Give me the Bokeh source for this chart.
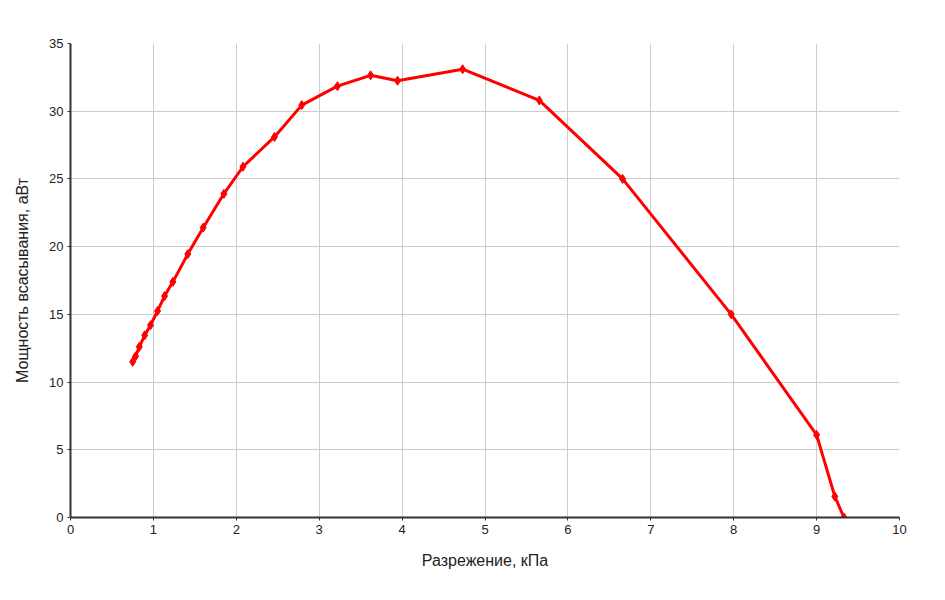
from bokeh.plotting import figure
from bokeh.models import Range1d, FixedTicker
from bokeh.embed import file_html
from bokeh.resources import INLINE

x_kpa = [0.75, 0.785, 0.83, 0.895, 0.965, 1.05, 1.135, 1.235, 1.415, 1.60,
         1.85, 2.08, 2.46, 2.79, 3.22, 3.62, 3.945, 4.73, 5.655, 6.66, 7.97,
         9.0, 9.22, 9.33]
y_power = [11.5, 11.9, 12.6, 13.45, 14.2, 15.25, 16.35, 17.4, 19.45, 21.4,
           23.9, 25.9, 28.1, 30.45, 31.85, 32.65, 32.25, 33.1, 30.8, 25.0, 15.0,
           6.1, 1.55, 0.0]

x_ticks = list(range(0, 11))
y_ticks = [0, 5, 10, 15, 20, 25, 30, 35]

FONT = "Liberation Sans"

p = figure(width=925, height=580, output_backend="svg", toolbar_location=None,
           x_range=Range1d(0, 10), y_range=Range1d(0, 35),
           min_border_left=70, min_border_top=43, min_border_right=26,
           min_border_bottom=63)
p.outline_line_color = None

p.line(x_kpa, y_power, line_color="#ff0000", line_width=3)
p.scatter(x_kpa, y_power, marker="diamond", size=9, fill_color="#ff0000",
          line_color="#ff0000")

for ax in (p.xaxis, p.yaxis):
    ax.major_label_text_font = FONT
    ax.major_label_text_font_size = "13px"
    ax.major_label_text_color = "#222222"
    ax.axis_label_text_font = FONT
    ax.axis_label_text_font_size = "16px"
    ax.axis_label_text_font_style = "normal"
    ax.axis_label_text_color = "#222222"
    ax.axis_line_color = "#333333"
    ax.axis_line_width = 2
    ax.major_tick_in = 0
    ax.major_tick_out = 3
    ax.major_tick_line_color = "#333333"
    ax.minor_tick_line_color = None

p.xaxis.ticker = FixedTicker(ticks=x_ticks)
p.yaxis.ticker = FixedTicker(ticks=y_ticks)
p.xaxis.axis_label = "Разрежение, кПа"
p.yaxis.axis_label = "Мощность всасывания, аВт"
p.xaxis.axis_label_standoff = 15
p.yaxis.axis_label_standoff = 15
p.xaxis.major_label_standoff = 4
p.yaxis.major_label_standoff = 4

p.xgrid.grid_line_color = "#cccccc"
p.ygrid.grid_line_color = "#cccccc"
p.xgrid.grid_line_width = 1
p.ygrid.grid_line_width = 1

open("out.html", "w").write(file_html(p, INLINE))
